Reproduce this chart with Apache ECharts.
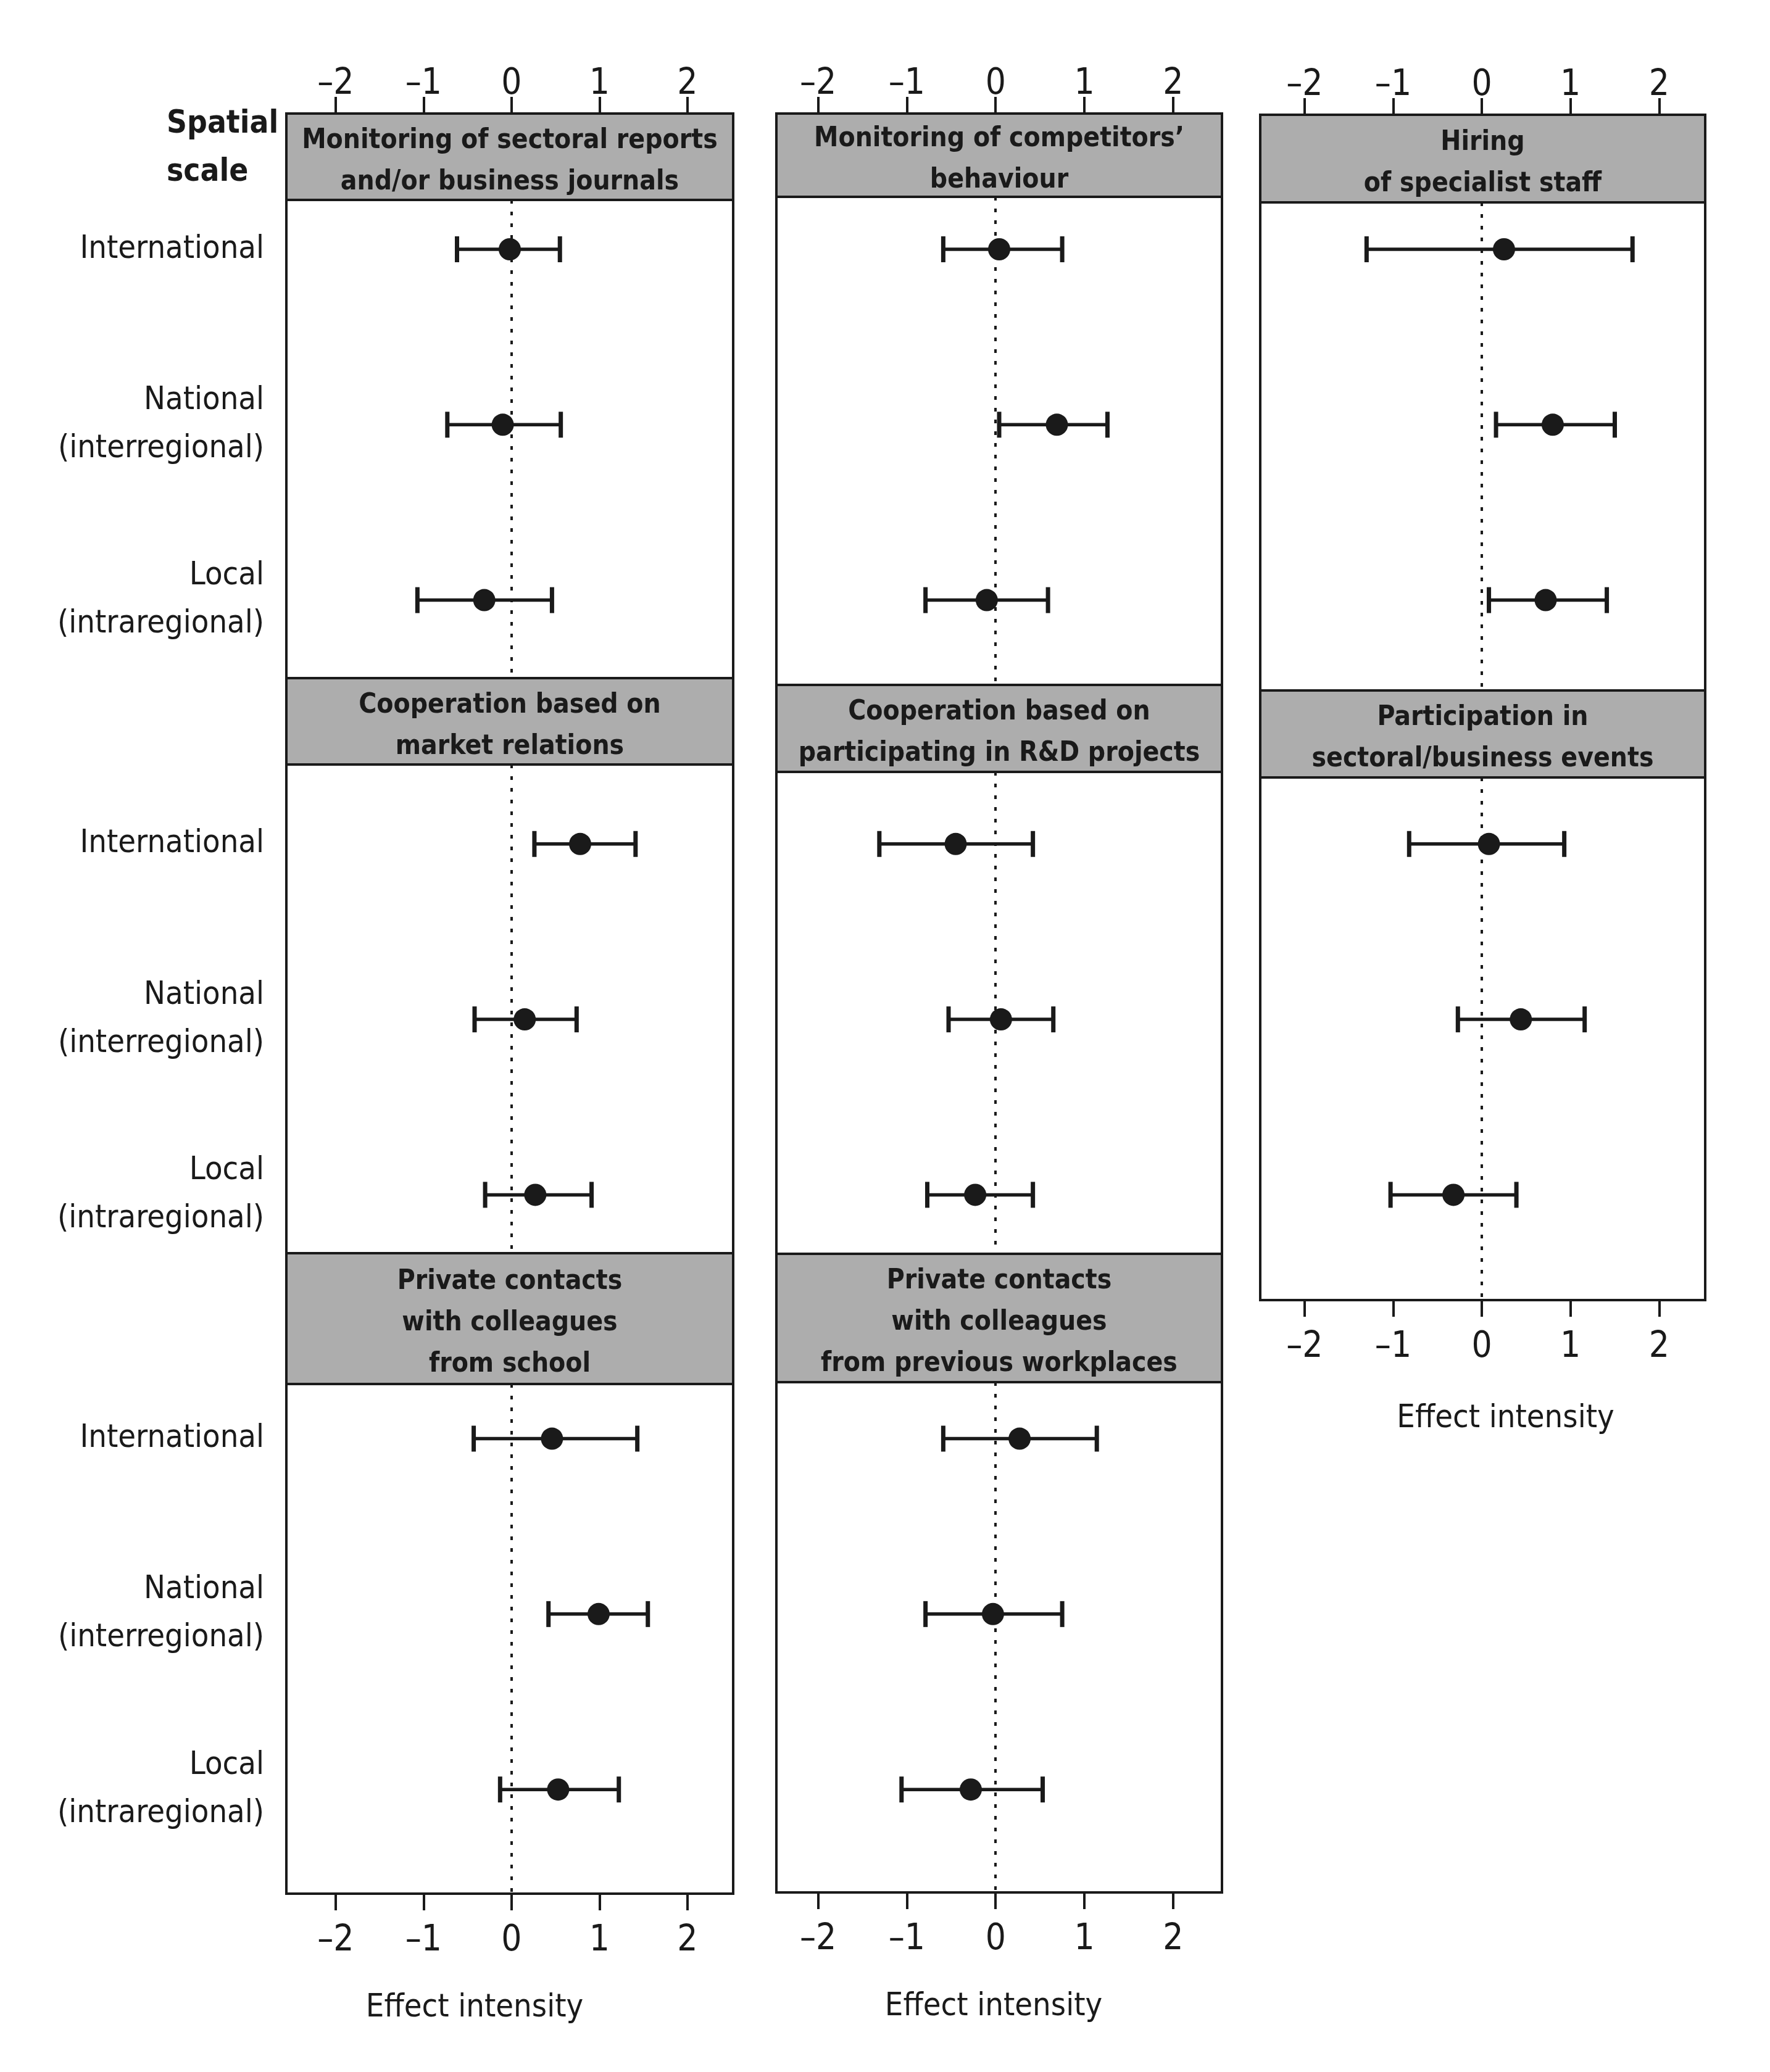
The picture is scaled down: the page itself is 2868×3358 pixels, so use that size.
<!DOCTYPE html>
<html><head><meta charset="utf-8">
<script src="https://cdn.jsdelivr.net/npm/echarts@6/dist/echarts.min.js"></script>
<style>html,body{margin:0;padding:0;background:#fff}#c{width:2868px;height:3358px}</style>
</head><body><div id="c"></div>
<script>
// ---------------- DATA ----------------
const scaleLabels = ['International', 'National\n(interregional)', 'Local\n(intraregional)'];
const tickValues = [-2, -1, 0, 1, 2];
const axisTitle = 'Effect intensity';
const legendTitle = 'Spatial\nscale';

const panelTitles = [
  'Monitoring of sectoral reports\nand/or business journals',
  'Cooperation based on\nmarket relations',
  'Private contacts\nwith colleagues\nfrom school',
  'Monitoring of competitors\u2019\nbehaviour',
  'Cooperation based on\nparticipating in R&D projects',
  'Private contacts\nwith colleagues\nfrom previous workplaces',
  'Hiring\nof specialist staff',
  'Participation in\nsectoral/business events'
];
// each row: [lower, estimate, upper] for International, National, Local
const sectoralReports   = [[-0.62, -0.02, 0.55], [-0.73, -0.10, 0.56], [-1.07, -0.31, 0.46]];
const marketRelations   = [[ 0.26,  0.78, 1.41], [-0.42,  0.15, 0.74], [-0.30,  0.27, 0.91]];
const schoolColleagues  = [[-0.43,  0.46, 1.43], [ 0.42,  0.99, 1.55], [-0.13,  0.53, 1.22]];
const competitors       = [[-0.59,  0.04, 0.75], [ 0.04,  0.69, 1.26], [-0.79, -0.10, 0.59]];
const rdProjects        = [[-1.31, -0.45, 0.42], [-0.53,  0.06, 0.65], [-0.77, -0.23, 0.42]];
const workplaceContacts = [[-0.59,  0.27, 1.14], [-0.79, -0.03, 0.75], [-1.06, -0.28, 0.53]];
const specialistStaff   = [[-1.30,  0.25, 1.70], [ 0.16,  0.80, 1.50], [ 0.08,  0.72, 1.41]];
const businessEvents    = [[-0.82,  0.08, 0.93], [-0.27,  0.44, 1.16], [-1.03, -0.32, 0.39]];
const panelData = [sectoralReports, marketRelations, schoolColleagues,
                   competitors, rdProjects, workplaceContacts,
                   specialistStaff, businessEvents];
const panelColumn = [0, 0, 0, 1, 1, 1, 2, 2];
const panelGroup  = [0, 1, 2, 0, 1, 2, 0, 1];

// ---------------- LAYOUT / STYLE ----------------
const FONT = '"Liberation Sans Narrow","Arial Narrow","DejaVu Sans Condensed","Liberation Sans",sans-serif';
const INK = '#1a1a1a';
const HEADER_FILL = '#adadad';
const ROW0 = 404, UNIT = 284.3, GROUP_STEP = 3.39;
const colLayout = [
  {x0: 464,  x1: 1188, xMin: -2.56, xMax: 2.52, top: 184, bottom: 3069,
   headers: [[184, 324], [1099, 1239], [2031, 2243]], nameShift: -57, nameGap: 159},
  {x0: 1258, x1: 1980, xMin: -2.47, xMax: 2.55, top: 184, bottom: 3067,
   headers: [[184, 319], [1110, 1251], [2032, 2240]], nameShift: -9, nameGap: 159},
  {x0: 2042, x1: 2763, xMin: -2.50, xMax: 2.52, top: 186, bottom: 2107,
   headers: [[186, 328], [1119, 1260]], nameShift: 37, nameGap: 166}
];
const toUnit = px => (px - ROW0) / UNIT;
const rowPos = (g, r) => g * GROUP_STEP + r;
const fmtTick = v => v < 0 ? '\u2013' + Math.abs(v) : String(v);

const grids = [], xAxes = [], yAxes = [], series = [];
colLayout.forEach((c, ci) => {
  grids.push({left: c.x0, top: c.top, width: c.x1 - c.x0, height: c.bottom - c.top,
    show: true, borderColor: INK, borderWidth: 4, backgroundColor: 'transparent'});
  const common = {
    type: 'value', gridIndex: ci, min: c.xMin, max: c.xMax,
    axisLine: {show: false, onZero: false}, splitLine: {show: false},
    axisTick: {show: true, inside: false, length: 27, customValues: tickValues,
      lineStyle: {color: INK, width: 4}},
    axisLabel: {show: true, customValues: tickValues, formatter: fmtTick,
      fontFamily: FONT, fontSize: 58, color: INK, margin: 18}
  };
  xAxes.push(Object.assign({}, common, {position: 'bottom',
    name: axisTitle, nameLocation: 'middle', nameGap: c.nameGap,
    nameTextStyle: {fontFamily: FONT, fontSize: 52, color: INK,
      padding: c.nameShift < 0 ? [0, -2 * c.nameShift, 0, 0] : [0, 0, 0, 2 * c.nameShift]},
    axisLabel: Object.assign({}, common.axisLabel, {margin: 48})}));
  xAxes.push(Object.assign({}, common, {position: 'top'}));
  const pos = [];
  c.headers.forEach((h, g) => { for (let r = 0; r < 3; r++) pos.push(rowPos(g, r)); });
  yAxes.push({
    type: 'value', gridIndex: ci, inverse: true,
    min: toUnit(c.top), max: toUnit(c.bottom),
    axisLine: {show: false, onZero: false}, axisTick: {show: false}, splitLine: {show: false},
    axisLabel: {show: ci === 0, customValues: pos, margin: 36, align: 'right',
      fontFamily: FONT, fontSize: 52, lineHeight: 78, color: INK,
      formatter: v => {
        const i = pos.findIndex(p => Math.abs(p - v) < 1e-6);
        return i < 0 ? '' : scaleLabels[i % 3];
      }}
  });
});

panelData.forEach((rows, pi) => {
  const ci = panelColumn[pi], g = panelGroup[pi], c = colLayout[ci];
  const hdr = c.headers[g];
  const plotEnd = g + 1 < c.headers.length ? c.headers[g + 1][0] : c.bottom;
  series.push({
    type: 'custom', xAxisIndex: 2 * ci, yAxisIndex: ci, silent: true,
    encode: {x: [0, 1], y: 2},
    data: rows.map((d, r) => [d[0], d[2], rowPos(g, r)]),
    renderItem: (params, api) => {
      const y = api.value(2);
      const a = api.coord([api.value(0), y]);
      const b = api.coord([api.value(1), y]);
      const h = 21;
      return {type: 'group', children: [
        {type: 'line', shape: {x1: a[0], y1: a[1], x2: b[0], y2: b[1]}, style: {stroke: INK, lineWidth: 5.5}},
        {type: 'line', shape: {x1: a[0], y1: a[1] - h, x2: a[0], y2: a[1] + h}, style: {stroke: INK, lineWidth: 7}},
        {type: 'line', shape: {x1: b[0], y1: b[1] - h, x2: b[0], y2: b[1] + h}, style: {stroke: INK, lineWidth: 7}}
      ]};
    }
  });
  series.push({
    type: 'scatter', xAxisIndex: 2 * ci, yAxisIndex: ci, silent: true,
    symbol: 'circle', symbolSize: 36, itemStyle: {color: INK, opacity: 1},
    data: rows.map((d, r) => [d[1], rowPos(g, r)]),
    markLine: {silent: true, symbol: 'none', animation: false,
      lineStyle: {color: INK, width: 4, type: [6, 13]}, label: {show: false},
      data: [[{coord: [0, toUnit(hdr[1])]}, {coord: [0, toUnit(plotEnd)]}]]},
    markArea: {silent: true,
      itemStyle: {color: HEADER_FILL, borderColor: INK, borderWidth: 4},
      label: {show: true, position: 'inside', offset: [0, 8], fontFamily: FONT, fontSize: 44,
        fontWeight: 'bold', lineHeight: 67, color: INK},
      data: [[{name: panelTitles[pi], yAxis: toUnit(hdr[0])}, {yAxis: toUnit(hdr[1])}]]}
  });
});

const chart = echarts.init(document.getElementById('c'), null, {renderer: 'canvas'});
chart.setOption({
  animation: false,
  backgroundColor: '#fff',
  title: {text: legendTitle, left: 265, top: 158,
    textStyle: {fontFamily: FONT, fontSize: 51, fontWeight: 'bold', lineHeight: 78, color: INK}},
  grid: grids, xAxis: xAxes, yAxis: yAxes, series: series
});
</script></body></html>
